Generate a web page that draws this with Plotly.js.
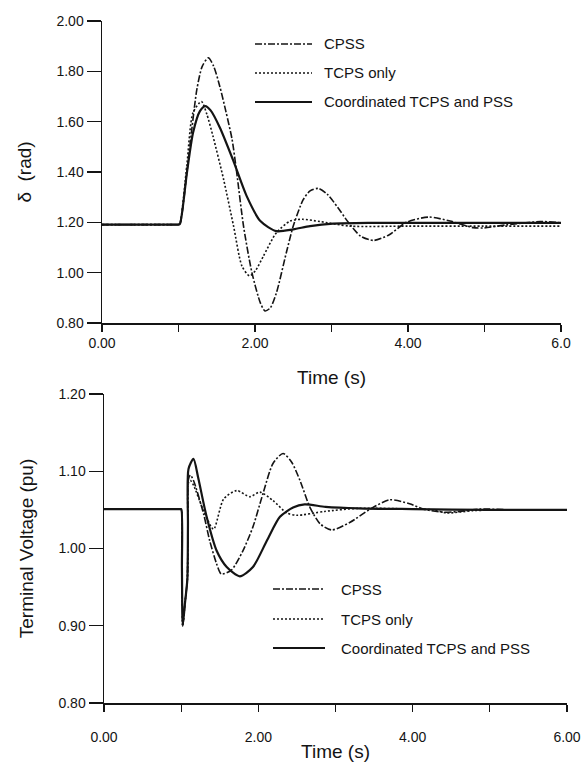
<!DOCTYPE html>
<html>
<head>
<meta charset="utf-8">
<script src="https://cdn.plot.ly/plotly-3.0.1.min.js"></script>
<style>html,body{margin:0;padding:0;background:#fff;}#chart{width:581px;height:762px;}</style>
</head>
<body>
<div id="chart"></div>
<script>
// ---------- DATA ----------
const seriesNames = ["CPSS", "TCPS only", "Coordinated TCPS and PSS"];

// Top panel: rotor angle delta (rad)
const deltaCpssT = [0, 0.5, 0.97, 1.0, 1.02, 1.11, 1.17, 1.24, 1.31, 1.39, 1.46, 1.54, 1.62, 1.70, 1.76, 1.85, 1.96, 2.07, 2.13, 2.20, 2.28, 2.41, 2.50, 2.63, 2.72, 2.83, 2.95, 3.08, 3.22, 3.38, 3.55, 3.75, 3.98, 4.27, 4.55, 4.85, 5.00, 5.29, 5.73, 6.00];
const deltaCpssV = [1.191, 1.191, 1.191, 1.191, 1.195, 1.40, 1.56, 1.728, 1.82, 1.854, 1.82, 1.74, 1.64, 1.53, 1.40, 1.185, 1.00, 0.88, 0.848, 0.86, 0.92, 1.08, 1.185, 1.29, 1.325, 1.335, 1.31, 1.26, 1.20, 1.145, 1.128, 1.15, 1.20, 1.221, 1.205, 1.179, 1.178, 1.19, 1.203, 1.198];

const deltaTcpsT = [0, 0.5, 0.97, 1.0, 1.02, 1.11, 1.19, 1.30, 1.37, 1.45, 1.59, 1.72, 1.83, 1.93, 2.01, 2.11, 2.28, 2.46, 2.62, 2.85, 3.24, 4.0, 5.0, 6.0];
const deltaTcpsV = [1.191, 1.191, 1.191, 1.191, 1.197, 1.43, 1.636, 1.68, 1.63, 1.543, 1.37, 1.185, 1.026, 0.987, 1.01, 1.066, 1.159, 1.205, 1.212, 1.203, 1.185, 1.185, 1.185, 1.185];

const deltaCoordT = [0, 0.5, 0.97, 1.0, 1.02, 1.11, 1.19, 1.28, 1.35, 1.42, 1.54, 1.71, 1.89, 2.07, 2.28, 2.50, 2.72, 3.02, 3.50, 4.50, 6.00];
const deltaCoordV = [1.191, 1.191, 1.191, 1.191, 1.195, 1.397, 1.556, 1.642, 1.662, 1.645, 1.577, 1.45, 1.305, 1.205, 1.165, 1.172, 1.185, 1.195, 1.198, 1.198, 1.198];

// Bottom panel: terminal voltage (pu)
const vtCpssT = [0, 0.5, 0.98, 1.0, 1.01, 1.02, 1.05, 1.08, 1.088, 1.095, 1.12, 1.16, 1.29, 1.37, 1.46, 1.52, 1.65, 1.80, 1.93, 2.06, 2.19, 2.32, 2.43, 2.54, 2.67, 2.80, 2.95, 3.19, 3.45, 3.70, 3.96, 4.14, 4.40, 4.61, 4.87, 5.30, 6.00];
const vtCpssV = [1.051, 1.051, 1.051, 1.051, 0.975, 0.90, 0.93, 0.96, 1.025, 1.09, 1.095, 1.088, 1.045, 1.01, 0.98, 0.967, 0.972, 0.997, 1.028, 1.071, 1.11, 1.123, 1.112, 1.088, 1.053, 1.032, 1.024, 1.034, 1.051, 1.063, 1.058, 1.051, 1.047, 1.048, 1.051, 1.05, 1.05];

const vtTcpsT = [0, 0.5, 0.98, 1.0, 1.01, 1.02, 1.05, 1.08, 1.088, 1.095, 1.12, 1.16, 1.29, 1.42, 1.55, 1.72, 1.89, 2.02, 2.19, 2.37, 2.50, 2.86, 3.30, 4.00, 4.27, 4.44, 4.78, 5.20, 6.00];
const vtTcpsV = [1.051, 1.051, 1.051, 1.051, 0.975, 0.90, 0.93, 0.96, 1.02, 1.085, 1.088, 1.082, 1.049, 1.025, 1.064, 1.075, 1.067, 1.073, 1.062, 1.046, 1.043, 1.048, 1.052, 1.051, 1.05, 1.046, 1.049, 1.05, 1.05];

const vtCoordT = [0, 0.5, 0.98, 1.0, 1.01, 1.02, 1.05, 1.08, 1.088, 1.095, 1.16, 1.22, 1.33, 1.46, 1.59, 1.76, 1.93, 2.11, 2.28, 2.45, 2.60, 2.87, 3.30, 4.00, 5.00, 6.00];
const vtCoordV = [1.051, 1.051, 1.051, 1.051, 0.975, 0.90, 0.93, 0.96, 1.03, 1.103, 1.116, 1.092, 1.041, 0.997, 0.976, 0.964, 0.976, 1.01, 1.041, 1.053, 1.057, 1.054, 1.052, 1.051, 1.05, 1.05];

const topYTicks = [0.8, 1.0, 1.2, 1.4, 1.6, 1.8, 2.0];
const topYTickText = ["0.80", "1.00", "1.20", "1.40", "1.60", "1.80", "2.00"];
const topXTicks = [0, 2, 4, 6];
const topXTickText = ["0.00", "2.00", "4.00", "6.0"];
const botYTicks = [0.8, 0.9, 1.0, 1.1, 1.2];
const botYTickText = ["0.80", "0.90", "1.00", "1.10", "1.20"];
const botXTicks = [0, 2, 4, 6];
const botXTickText = ["0.00", "2.00", "4.00", "6.00"];

// ---------- STYLE / LAYOUT ----------
const W = 581, H = 762;
const FONT = "Liberation Sans, Arial, Helvetica, sans-serif";
const INK = "#141414";
const px = x => x / W;
const py = y => 1 - y / H;

const styles = [
  {color: INK, width: 1.6, dash: "7px,2px,2px,2px"},
  {color: INK, width: 1.6, dash: "2px,2px"},
  {color: INK, width: 2.2, dash: "solid"}
];

function tr(x, y, i, xa, ya) {
  return {x: x, y: y, type: "scatter", mode: "lines", name: seriesNames[i],
    xaxis: xa, yaxis: ya, showlegend: false, hoverinfo: "skip",
    line: Object.assign({shape: "spline", smoothing: 0.7}, styles[i])};
}

const data = [
  tr(deltaCpssT, deltaCpssV, 0, "x", "y"),
  tr(deltaTcpsT, deltaTcpsV, 1, "x", "y"),
  tr(deltaCoordT, deltaCoordV, 2, "x", "y"),
  tr(vtCpssT, vtCpssV, 0, "x2", "y2"),
  tr(vtTcpsT, vtTcpsV, 1, "x2", "y2"),
  tr(vtCoordT, vtCoordV, 2, "x2", "y2")
];

const tickFont = {family: FONT, size: 14, color: INK};
const titleFont = {family: FONT, size: 19, color: INK};

function xAxis(domain, ticks, text, anchor, standoff, labStand) {
  return {domain: domain, anchor: anchor, range: [0, 6], showgrid: false, zeroline: false,
    showline: true, linecolor: INK, linewidth: 1.5, mirror: false,
    tickmode: "array", tickvals: ticks, ticktext: text, ticks: "outside", ticklen: 7,
    tickwidth: 1.3, tickcolor: INK, tickfont: tickFont, ticklabelstandoff: labStand,
    minor: {tickmode: "linear", tick0: 0, dtick: 1, ticks: "outside", ticklen: 7, tickwidth: 1.3, tickcolor: INK, showgrid: false},
    title: {text: "Time (s)", font: titleFont, standoff: standoff}, automargin: false, fixedrange: true};
}
function yAxis(domain, range, ticks, text, anchor, title, standoff) {
  return {domain: domain, anchor: anchor, range: range, showgrid: false, zeroline: false,
    showline: true, linecolor: INK, linewidth: 1.5,
    tickmode: "array", tickvals: ticks, ticktext: text, ticks: "outside", ticklen: 14,
    tickwidth: 1.3, tickcolor: INK, tickfont: tickFont,
    title: {text: title, font: titleFont, standoff: standoff}, automargin: false, fixedrange: true};
}

// legend decorations (shapes + text), built from seriesNames and styles
const shapes = [], annotations = [];
function legend(x0, x1, xt, rows) {
  rows.forEach((r, i) => {
    shapes.push({type: "line", xref: "paper", yref: "paper", x0: px(x0), x1: px(x1), y0: py(r), y1: py(r),
      line: {color: styles[i].color, width: styles[i].width, dash: styles[i].dash}});
    annotations.push({xref: "paper", yref: "paper", x: px(xt), y: py(r), xanchor: "left", yanchor: "middle",
      text: seriesNames[i], showarrow: false, font: {family: FONT, size: 15, color: INK}});
  });
}
legend(255, 312, 322, [44, 73, 102]);
legend(273, 325, 339, [589, 619, 648]);

const layout = {
  width: W, height: H, margin: {l: 0, r: 0, t: 0, b: 0},
  paper_bgcolor: "#fff", plot_bgcolor: "#fff", showlegend: false,
  xaxis: xAxis([px(102), px(561)], topXTicks, topXTickText, "y", 20, 0),
  yaxis: yAxis([py(323), py(21)], [0.8, 2.0], topYTicks, topYTickText, "x", "δ  (rad)", 20),
  xaxis2: xAxis([px(104), px(567)], botXTicks, botXTickText, "y2", 2, 14),
  yaxis2: yAxis([py(703), py(394)], [0.8, 1.2], botYTicks, botYTickText, "x2", "Terminal Voltage (pu)", 20),
  shapes: shapes, annotations: annotations
};

Plotly.newPlot("chart", data, layout, {staticPlot: true, displayModeBar: false});
</script>
</body>
</html>
